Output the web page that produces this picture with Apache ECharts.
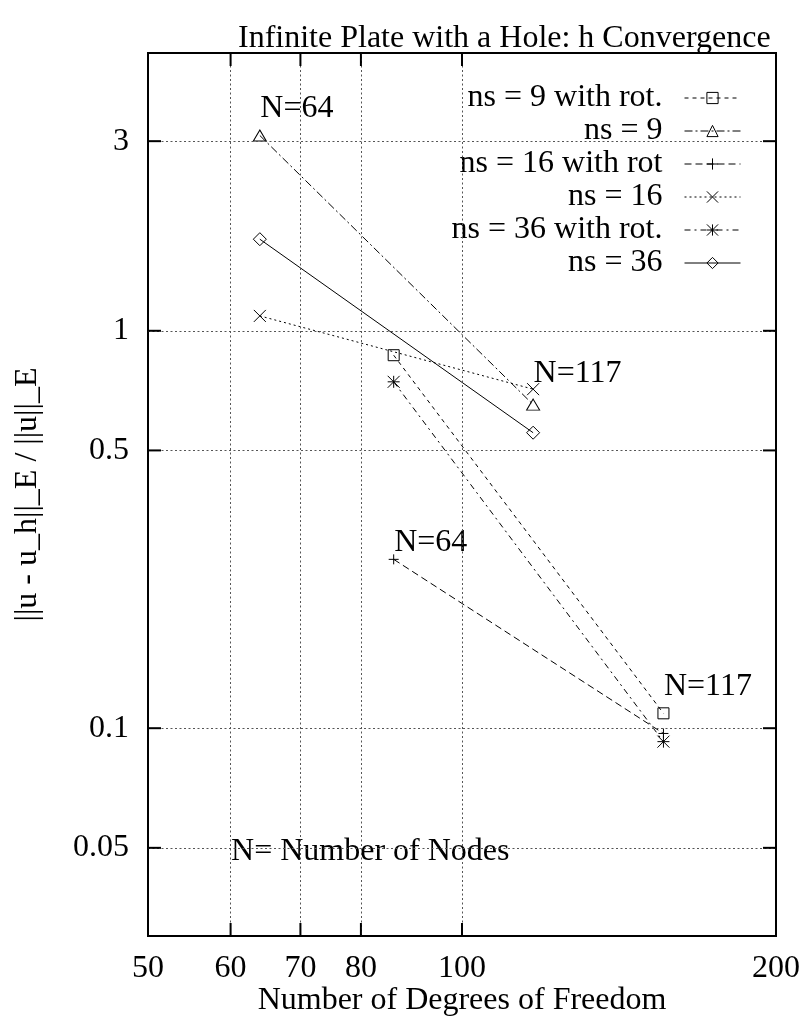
<!DOCTYPE html>
<html>
<head>
<meta charset="utf-8">
<title>Infinite Plate with a Hole: h Convergence</title>
<script src="https://cdn.jsdelivr.net/npm/echarts@6/dist/echarts.min.js"></script>
<style>
  html, body { margin: 0; padding: 0; background: #fff; }
  #chart { width: 806px; height: 1022px; }
</style>
</head>
<body>
<div id="chart"></div>
<script>
// Degrees of freedom of the two meshes (N = 64 and N = 117 nodes)
const dofPlain = [64, 117];
const dofRot = [86, 156];

// Relative energy-norm error ||u - u_h||_E / ||u||_E for each stencil size
const errNs9Rot = [0.868, 0.109];
const errNs9 = [3.1, 0.652];
const errNs16Rot = [0.266, 0.097];
const errNs16 = [1.09, 0.713];
const errNs36Rot = [0.744, 0.0925];
const errNs36 = [1.7, 0.554];

const seriesNames = ['ns = 9 with rot.', 'ns = 9', 'ns = 16 with rot', 'ns = 16', 'ns = 36 with rot.', 'ns = 36'];

// Axis ranges and tick marks
const xRange = [50, 200];
const yRange = [0.03, 5];
const xTicks = [50, 60, 70, 80, 100, 200];
const xTickLabels = ['50', '60', '70', '80', '100', '200'];
const yTicks = [0.05, 0.1, 0.5, 1, 3];
const yTickLabels = ['0.05', '0.1', '0.5', '1', '3'];

// Annotations placed in data coordinates
const noteTexts = ['N=64', 'N=117', 'N=64', 'N=117', 'N= Number of Nodes'];
const noteX = [64, 117, 86, 156, 60];
const noteY = [3.7, 0.8, 0.3, 0.13, 0.05];

const FONT = 'Liberation Serif';
const FS = 32;
const PLUS = 'path://M0,5L10,5M5,0L5,10';
const CROSS = 'path://M0,0L10,10M10,0L0,10';
const STAR = 'path://M0,0L10,10M10,0L0,10M5,0L5,10M0,5L10,5';

// Point type and line pattern of each curve
const curveStyles = [
  { symbol: 'rect', size: 11, dash: [4, 4] },
  { symbol: 'triangle', size: [13, 11], dash: [8, 3, 2, 3] },
  { symbol: PLUS, size: 10, dash: [7, 4] },
  { symbol: CROSS, size: 12, dash: [2, 3] },
  { symbol: STAR, size: 12, dash: [6, 4, 2, 4] },
  { symbol: 'diamond', size: 13, dash: 'solid' }
];
const curveX = [dofRot, dofPlain, dofRot, dofPlain, dofRot, dofPlain];
const curveY = [errNs9Rot, errNs9, errNs16Rot, errNs16, errNs36Rot, errNs36];

const curves = seriesNames.map((name, i) => ({
  type: 'line',
  name: name,
  data: curveX[i].map((x, k) => [x, curveY[i][k]]),
  symbol: curveStyles[i].symbol,
  symbolSize: curveStyles[i].size,
  showSymbol: true,
  silent: true,
  lineStyle: { color: '#000', width: 1, type: curveStyles[i].dash },
  itemStyle: { color: 'rgba(0,0,0,0)', borderColor: '#000', borderWidth: 1 },
  emphasis: { disabled: true },
  z: 3
}));

const innerX = xTicks.filter(v => v > xRange[0] && v < xRange[1]);

// Grid lines, tick labels and inward tick marks on all four borders
const frame = {
  type: 'line',
  name: 'frame',
  data: [],
  silent: true,
  z: 2,
  markLine: {
    silent: true,
    symbol: ['none', 'none'],
    animation: false,
    lineStyle: { color: '#555', width: 1, type: [2, 2.5] },
    label: { show: true, position: 'start', color: '#000', fontFamily: FONT, fontSize: FS },
    data: [
      ...yTicks.map((v, i) => ({
        yAxis: v,
        label: { formatter: yTickLabels[i], distance: 19, align: 'right', verticalAlign: 'middle' }
      })),
      ...xTicks.map((v, i) => ({
        xAxis: v,
        lineStyle: (v === xRange[0] || v === xRange[1]) ? { color: 'rgba(0,0,0,0)' } : {},
        label: { formatter: xTickLabels[i], distance: 17, align: 'center', verticalAlign: 'top' }
      }))
    ]
  },
  markPoint: {
    silent: true,
    animation: false,
    symbol: 'rect',
    itemStyle: { color: '#000' },
    label: { show: false },
    data: [
      ...yTicks.flatMap(v => [
        { coord: [xRange[0], v], symbolSize: [13, 2], symbolOffset: [6.5, 0] },
        { coord: [xRange[1], v], symbolSize: [13, 2], symbolOffset: [-6.5, 0] }
      ]),
      ...innerX.flatMap(v => [
        { coord: [v, yRange[0]], symbolSize: [2, 13], symbolOffset: [0, -6.5] },
        { coord: [v, yRange[1]], symbolSize: [2, 13], symbolOffset: [0, 6.5] }
      ])
    ]
  }
};

const notes = {
  type: 'scatter',
  name: 'notes',
  silent: true,
  z: 4,
  symbolSize: 1,
  itemStyle: { color: 'rgba(0,0,0,0)', opacity: 1 },
  emphasis: { disabled: true },
  data: noteTexts.map((t, i) => [noteX[i], noteY[i], t]),
  label: {
    show: true,
    position: 'right',
    distance: 0,
    offset: [0, 4],
    opacity: 1,
    formatter: p => p.data[2],
    color: '#000',
    fontFamily: FONT,
    fontSize: FS
  }
};

const chart = echarts.init(document.getElementById('chart'), null, { renderer: 'canvas' });
chart.setOption({
  animation: false,
  backgroundColor: '#fff',
  textStyle: { fontFamily: FONT, color: '#000' },
  title: {
    text: 'Infinite Plate with a Hole: h Convergence',
    left: 238,
    top: 23,
    padding: 0,
    textStyle: { fontFamily: FONT, fontSize: FS, fontWeight: 'normal', color: '#000', lineHeight: 32 }
  },
  grid: {
    left: 148, right: 30, top: 53, bottom: 86,
    show: true, borderColor: '#000', borderWidth: 2, backgroundColor: 'rgba(0,0,0,0)'
  },
  legend: {
    data: seriesNames,
    orient: 'vertical',
    align: 'right',
    right: 60,
    top: 76.5,
    itemWidth: 56,
    itemHeight: 14,
    itemGap: 0,
    selectedMode: false,
    lineStyle: { width: 1, color: '#000' },
    itemStyle: { borderWidth: 1, borderColor: '#000' },
    textStyle: { fontFamily: FONT, fontSize: FS, color: '#000', lineHeight: 33, padding: [0, 17, 0, 0] }
  },
  xAxis: {
    type: 'log',
    logBase: 10,
    min: xRange[0],
    max: xRange[1],
    axisLine: { show: false },
    axisTick: { show: false },
    axisLabel: { show: false },
    splitLine: { show: false },
    name: 'Number of Degrees of Freedom',
    nameLocation: 'middle',
    nameGap: 49,
    nameTextStyle: { fontFamily: FONT, fontSize: FS, color: '#000' }
  },
  yAxis: {
    type: 'log',
    logBase: 10,
    min: yRange[0],
    max: yRange[1],
    axisLine: { show: false },
    axisTick: { show: false },
    axisLabel: { show: false },
    splitLine: { show: false },
    name: '||u - u_h||_E / ||u||_E',
    nameLocation: 'middle',
    nameRotate: 90,
    nameGap: 104,
    nameTextStyle: { fontFamily: FONT, fontSize: FS, color: '#000' }
  },
  series: [frame, ...curves, notes]
});
</script>
</body>
</html>
